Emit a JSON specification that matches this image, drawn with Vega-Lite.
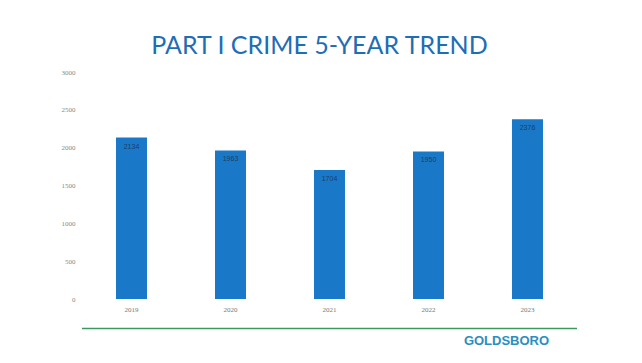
{
  "$schema": "https://vega.github.io/schema/vega-lite/v6.json",
  "autosize": "none",
  "width": 495,
  "height": 227,
  "padding": {"left": 82, "top": 72, "right": 65, "bottom": 64},
  "background": "white",
  "title": {
    "text": "PART I CRIME 5-YEAR TREND",
    "font": "Lato",
    "fontSize": 25,
    "fontWeight": "normal",
    "color": "#1f6db5",
    "anchor": "middle",
    "dx": -10,
    "offset": 9
  },
  "data": {
    "values": [
      {"year": "2019", "crimes": 2134},
      {"year": "2020", "crimes": 1963},
      {"year": "2021", "crimes": 1704},
      {"year": "2022", "crimes": 1950},
      {"year": "2023", "crimes": 2376}
    ]
  },
  "layer": [
    {
      "mark": {"type": "bar", "color": "#1a78c8"},
      "encoding": {
        "x": {
          "field": "year",
          "type": "nominal",
          "scale": {"paddingInner": 0.687, "paddingOuter": 0.3435},
          "axis": {"title": null}
        },
        "y": {
          "field": "crimes",
          "type": "quantitative",
          "scale": {"domain": [0, 3000], "nice": false},
          "axis": {"title": null, "values": [0, 500, 1000, 1500, 2000, 2500, 3000], "format": "d"}
        }
      }
    },
    {
      "mark": {"type": "text", "baseline": "top", "dy": 5, "font": "Liberation Sans", "fontSize": 7, "color": "#1d3f66"},
      "encoding": {
        "x": {"field": "year", "type": "nominal", "axis": {"title": null}},
        "y": {"field": "crimes", "type": "quantitative", "axis": {"title": null, "values": [0, 500, 1000, 1500, 2000, 2500, 3000], "format": "d"}},
        "text": {"field": "crimes", "type": "quantitative", "format": "d"}
      }
    },
    {
      "data": {"values": [{"level": -390}]},
      "mark": {"type": "rule", "color": "#3a9a5b", "strokeWidth": 1.5},
      "encoding": {
        "y": {"field": "level", "type": "quantitative", "axis": {"title": null, "values": [0, 500, 1000, 1500, 2000, 2500, 3000], "format": "d"}}
      }
    },
    {
      "data": {"values": [{"year": "2023", "level": -560, "logo": "GOLDSBORO"}]},
      "mark": {"type": "text", "align": "center", "baseline": "middle", "dx": -21, "font": "Liberation Sans", "fontWeight": "bold", "fontSize": 13, "color": "#2a8fc0"},
      "encoding": {
        "x": {"field": "year", "type": "nominal", "axis": {"title": null}},
        "y": {"field": "level", "type": "quantitative", "axis": {"title": null, "values": [0, 500, 1000, 1500, 2000, 2500, 3000], "format": "d"}},
        "text": {"field": "logo"}
      }
    }
  ],
  "config": {
    "view": {"stroke": null},
    "axisX": {
      "labelAngle": 0,
      "domain": false,
      "ticks": false,
      "labelFont": "Liberation Serif",
      "labelFontSize": 7,
      "labelColor": "#777777",
      "labelPadding": 6
    },
    "axisY": {
      "labelOverlap": false,
      "grid": false,
      "domain": false,
      "ticks": false,
      "labelFont": "Liberation Serif",
      "labelFontSize": 7,
      "labelColor": "#888888",
      "labelPadding": 7
    }
  }
}
